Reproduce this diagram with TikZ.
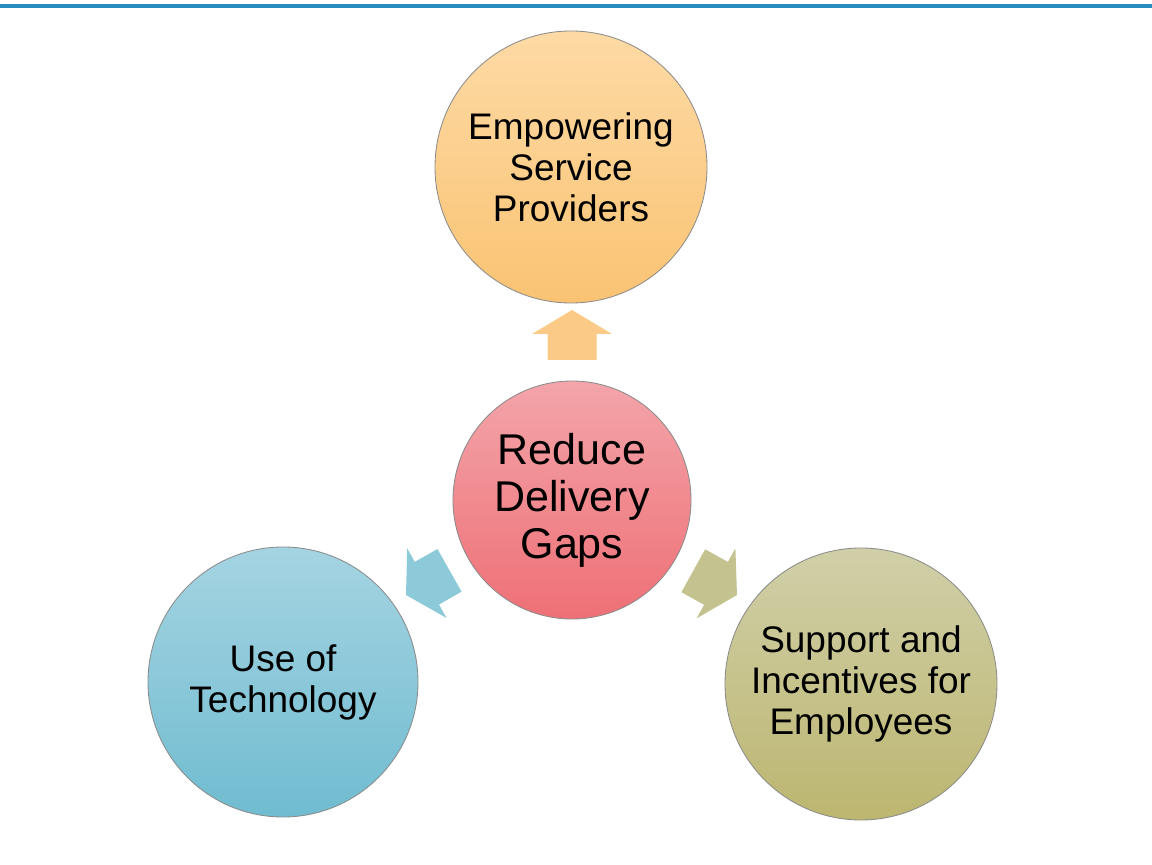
\documentclass[tikz,border=0pt]{standalone}
\usepackage{fontspec}
\setmainfont{Liberation Sans}
\definecolor{rule}{RGB}{40,140,190}
\definecolor{orTop}{RGB}{253,218,165}
\definecolor{orBot}{RGB}{250,195,115}
\definecolor{pkTop}{RGB}{243,165,170}
\definecolor{pkBot}{RGB}{238,112,118}
\definecolor{blTop}{RGB}{165,212,226}
\definecolor{blBot}{RGB}{112,188,208}
\definecolor{olTop}{RGB}{208,207,168}
\definecolor{olBot}{RGB}{188,182,112}
\definecolor{orArr}{RGB}{252,202,135}
\definecolor{blArr}{RGB}{140,202,218}
\definecolor{olArr}{RGB}{196,194,142}
\definecolor{edge}{RGB}{140,140,140}
\tikzset{
  bubble/.style={circle, draw=edge, line width=0.6pt, inner sep=0pt, align=center,
     font=\fontsize{26.3pt}{29.2pt}\selectfont},
  bigbubble/.style={bubble, font=\fontsize{30.6pt}{33.4pt}\selectfont},
  blockarrow/.style={draw=none},
}
\begin{document}
\begin{tikzpicture}[x=0.025cm,y=0.025cm]
\useasboundingbox (0,0) rectangle (1152,864);
\fill[white] (0,0) rectangle (1152,864);
\coordinate (ruleL) at (0,858);
\coordinate (ruleR) at (1152,858);
\draw[rule, line width=2.2pt] (ruleL) -- (ruleR);
\node[bubble, minimum size=272*0.025cm, top color=orTop, bottom color=orBot] (top) at (571,697) {Empowering\\Service\\Providers};
\node[bigbubble, minimum size=238*0.025cm, top color=pkTop, bottom color=pkBot] (mid) at (572,364) {Reduce\\Delivery\\Gaps};
\node[bubble, minimum size=270*0.025cm, top color=blTop, bottom color=blBot] (left) at (283,182) {Use of\\Technology};
\node[bubble, minimum size=272*0.025cm, top color=olTop, bottom color=olBot] (right) at (861,180) {Support and\\Incentives for\\Employees};
% block arrows
\begin{scope}[shift={(572,554)}, rotate=90]
\fill[orArr] (0,0) -- (-24,40) -- (-24,24.5) -- (-50,24.5) -- (-50,-24.5) -- (-24,-24.5) -- (-24,-40) -- cycle;
\end{scope}
\begin{scope}[shift={(406,269)}, rotate=209.5]
\fill[blArr] (0,0) -- (-24,40) -- (-24,24.5) -- (-50,24.5) -- (-50,-24.5) -- (-24,-24.5) -- (-24,-40) -- cycle;
\end{scope}
\begin{scope}[shift={(737,269)}, rotate=-29]
\fill[olArr] (0,0) -- (-24,40) -- (-24,24.5) -- (-50,24.5) -- (-50,-24.5) -- (-24,-24.5) -- (-24,-40) -- cycle;
\end{scope}
\end{tikzpicture}
\end{document}
